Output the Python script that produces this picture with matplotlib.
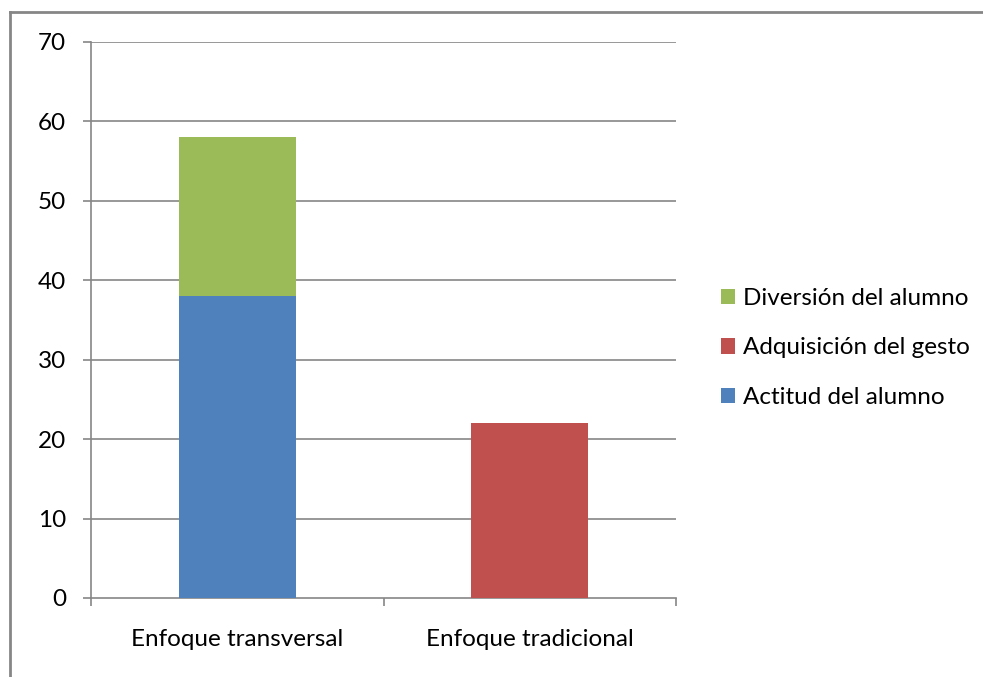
import matplotlib
matplotlib.use("Agg")
import matplotlib.pyplot as plt
from matplotlib.patches import Patch
from matplotlib.lines import Line2D
import numpy as np

categories = ["Enfoque transversal", "Enfoque tradicional"]
actitud = [38, 0]
adquisicion = [0, 22]
diversion = [20, 0]
series_names = ["Actitud del alumno", "Adquisición del gesto", "Diversión del alumno"]
colors = ["#4F81BD", "#C0504D", "#9BBB59"]
yticks = [0, 10, 20, 30, 40, 50, 60, 70]

plt.rcParams["font.family"] = ["Lato", "DejaVu Sans"]
grid_color = "#868686"
fs = 17.5

fig = plt.figure(figsize=(9.83, 6.77), dpi=100)
ax = fig.add_axes([91 / 983, 1 - 598 / 677, 585 / 983, 556 / 677])

x = np.arange(len(categories))
bottom = np.zeros(len(categories))
handles = []
for vals, name, col in zip([actitud, adquisicion, diversion], series_names, colors):
    v = np.array(vals, dtype=float)
    ax.bar(x, v, width=0.4, bottom=bottom, color=col, zorder=3)
    bottom += v
    handles.append(Patch(facecolor=col, edgecolor="none", label=name))

ax.set_xlim(-0.5, len(categories) - 0.5)
ax.set_ylim(0, 70)
ax.set_yticks(yticks)
ax.set_yticklabels([str(t) for t in yticks], fontsize=fs)
for t in yticks[1:]:
    ax.axhline(t, color=grid_color, lw=1.2, zorder=1)

# category labels centered, boundary ticks on the x axis
ax.set_xticks(x)
ax.set_xticklabels(categories, fontsize=fs)
ax.tick_params(axis="x", length=0, pad=22)
ax.set_xticks(np.arange(-0.5, len(categories), 1.0), minor=True)
ax.tick_params(axis="x", which="minor", length=6, width=1.2, color=grid_color, direction="out")
ax.tick_params(axis="y", length=6, width=1.2, color=grid_color, direction="out", pad=12)

for side in ["top", "right"]:
    ax.spines[side].set_visible(False)
for side in ["left", "bottom"]:
    ax.spines[side].set_color(grid_color)
    ax.spines[side].set_linewidth(1.2)

leg = fig.legend(handles=handles[::-1], loc="center left",
                 bbox_to_anchor=(711 / 983, 1 - 348 / 677), frameon=False,
                 fontsize=fs, handlelength=0.6, handleheight=0.6,
                 handletextpad=0.3, labelspacing=1.17, borderaxespad=0)

# outer chart frame (left and top edges)
fig.add_artist(Line2D([10 / 983, 10 / 983], [0, 1 - 12 / 677], transform=fig.transFigure,
                      color=grid_color, lw=2))
fig.add_artist(Line2D([10 / 983, 1], [1 - 12 / 677, 1 - 12 / 677], transform=fig.transFigure,
                      color=grid_color, lw=2))

fig.savefig("out.png", dpi=100)
